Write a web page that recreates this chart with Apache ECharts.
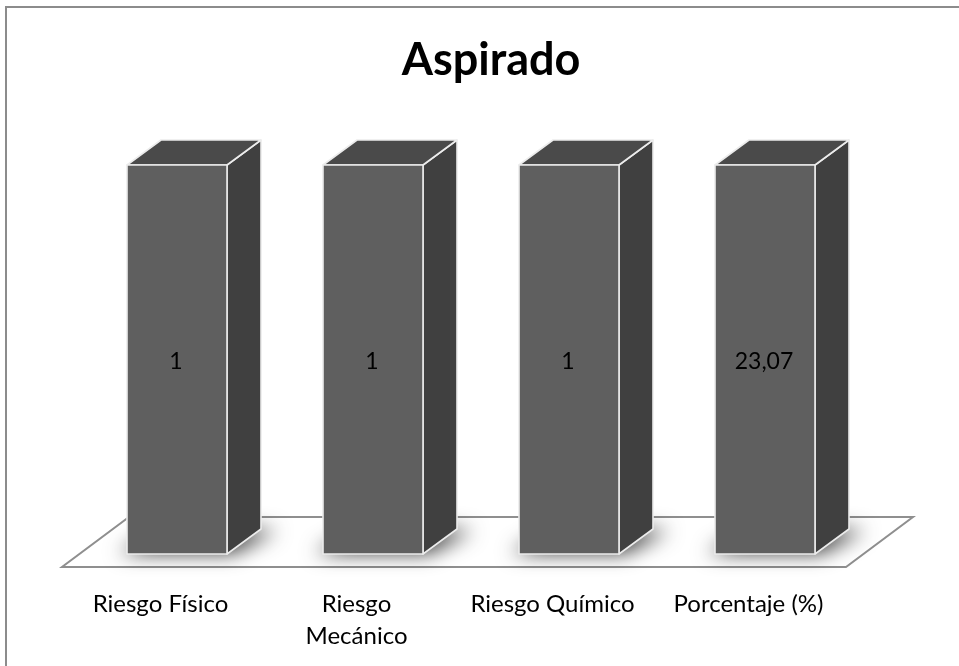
<!DOCTYPE html>
<html><head><meta charset="utf-8">
<style>html,body{margin:0;padding:0;background:#fff}#c{width:959px;height:666px}</style>
<script src="https://cdn.jsdelivr.net/npm/echarts@6/dist/echarts.min.js"></script>
</head><body><div id="c"></div>
<script>
const categories = ['Riesgo Físico', 'Riesgo\nMecánico', 'Riesgo Químico', 'Porcentaje (%)'];
const barShare = [100, 100, 100, 100];
const valueLabels = ['1', '1', '1', '23,07'];
const titleText = 'Aspirado';

const DX = 34, DY = 25, BAR_W = 100;
const FONT = 'Lato, "Open Sans", sans-serif';
const chart = echarts.init(document.getElementById('c'), null, {renderer: 'canvas'});

function floorItem(params, api) {
  const g = params.coordSys;
  const bottom = g.y + g.height;
  const x0 = g.x - 17, x1 = g.x + g.width - 17, y0 = bottom + 13, bx = 67, by = 50;
  return {
    type: 'polygon',
    silent: true,
    shape: {points: [[x0, y0], [x1, y0], [x1 + bx, y0 - by], [x0 + bx, y0 - by]]},
    style: {fill: '#fff', stroke: '#8f8f8f', lineWidth: 2}
  };
}
function shadowItem(params, api) {
  const x = api.coord([api.value(0), 0]);
  const w = BAR_W / 2, off = 3000;
  const l = x[0] - w - off, r = x[0] + w - off, b = x[1];
  return {
    type: 'polygon',
    silent: true,
    shape: {points: [[l - 8, b - 1], [r + 6, b - 1], [r + DX + 16, b - DY + 1], [l + DX, b - DY + 1]]},
    style: {fill: '#000', shadowBlur: 20, shadowColor: 'rgba(0,0,0,0.8)', shadowOffsetX: off}
  };
}
function barItem(params, api) {
  const top = api.coord([api.value(0), api.value(1)]);
  const base = api.coord([api.value(0), 0]);
  const l = top[0] - BAR_W / 2, r = top[0] + BAR_W / 2, t = top[1], b = base[1];
  const edge = {stroke: '#ececec', lineWidth: 1.6, lineJoin: 'round'};
  return {
    type: 'group',
    children: [
      {type: 'polygon', shape: {points: [[r, t], [r + DX, t - DY], [r + DX, b - DY], [r, b]]},
        style: Object.assign({fill: '#404040'}, edge)},
      {type: 'polygon', shape: {points: [[l, t], [l + DX, t - DY], [r + DX, t - DY], [r, t]]},
        style: Object.assign({fill: '#4a4a4a'}, edge)},
      {type: 'rect', shape: {x: l, y: t, width: BAR_W, height: b - t},
        style: Object.assign({fill: '#5f5f5f'}, edge)},
      {type: 'text', x: top[0] - 1, y: (t + b) / 2 + 2,
        style: {text: valueLabels[params.dataIndex], fill: '#000', font: '23px ' + FONT, align: 'center', verticalAlign: 'middle'}}
    ]
  };
}
const seriesData = categories.map((c, i) => [i, barShare[i]]);
chart.setOption({
  animation: false,
  title: {text: titleText, left: 486, top: 33, textAlign: 'center',
    textStyle: {fontFamily: FONT, fontSize: 45, fontWeight: 'bold', color: '#000'}},
  grid: {left: 79, top: 165, width: 784, height: 389},
  xAxis: {type: 'category', data: categories, axisLine: {show: false}, axisTick: {show: false},
    axisLabel: {margin: 34, color: '#000', fontFamily: FONT, fontSize: 24, lineHeight: 32, interval: 0, verticalAlign: 'top', padding: [0, 33, 0, 0]}},
  yAxis: {type: 'value', min: 0, max: 100, show: false, splitLine: {show: false}},
  series: [
    {type: 'custom', coordinateSystem: 'cartesian2d', data: [[0, 0]], renderItem: floorItem, z: 1, silent: true},
    {type: 'custom', coordinateSystem: 'cartesian2d', data: seriesData, renderItem: shadowItem, z: 2, silent: true, encode: {x: 0, y: 1}},
    {type: 'custom', coordinateSystem: 'cartesian2d', data: seriesData, renderItem: barItem, z: 3, encode: {x: 0, y: 1}}
  ],
  graphic: [{type: 'rect', z: -1, shape: {x: 6, y: 7, width: 960, height: 670},
    style: {fill: 'none', stroke: '#8c8c8c', lineWidth: 2}}]
});
</script></body></html>
